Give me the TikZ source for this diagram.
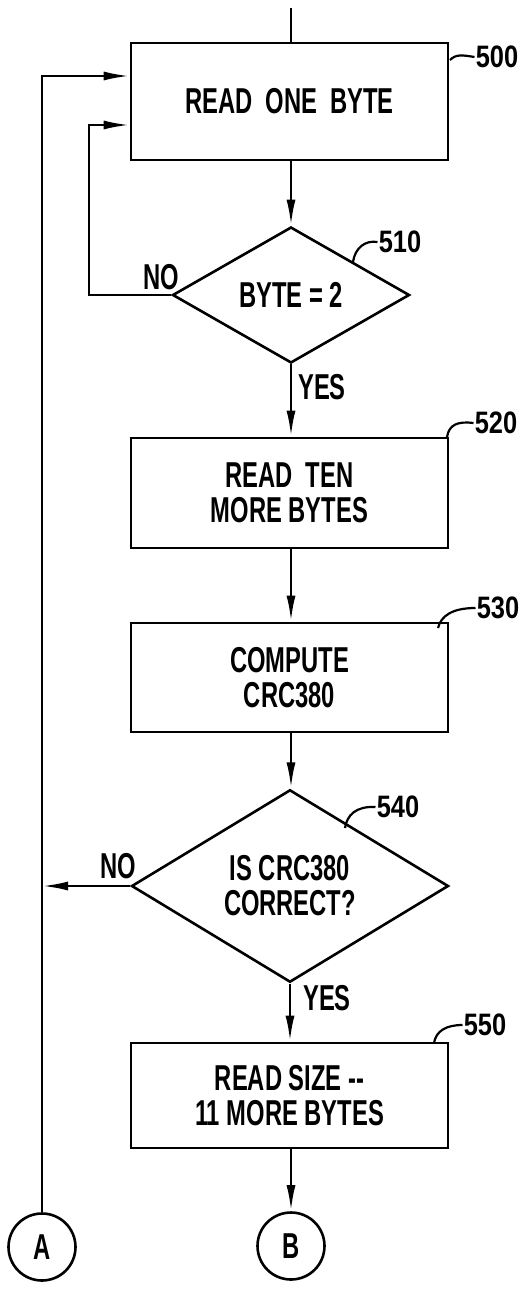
\documentclass[tikz,border=0pt]{standalone}
\usepackage{fontspec}
\setmainfont{Liberation Sans}[FakeStretch=0.66]
\newfontfamily\labfont{Liberation Sans}[FakeStretch=0.82]
\usetikzlibrary{arrows.meta,shapes.geometric}
\begin{document}
\begin{tikzpicture}[x=1pt,y=-1pt,
  line width=2.6pt,
  every node/.style={font=\fontsize{36}{35}\selectfont\bfseries},
  procbox/.style={draw,rectangle,minimum width=317pt,inner sep=0pt,align=center},
  decbox/.style={draw,diamond,inner sep=0pt,align=center},
  conn/.style={draw,circle,minimum size=67pt,inner sep=0pt},
  arr/.style={-{Latex[length=26pt,width=9pt]}},
  lead/.style={line width=2.2pt},
  txt/.style={inner sep=0pt},
  lab/.style={inner sep=0pt,font=\labfont\fontsize{31}{31}\selectfont\bfseries}]
\useasboundingbox (0,0) rectangle (527,1308);

\node[procbox,minimum height=117pt] (b500) at (289.5,101.5) {READ~~ONE~~BYTE};
\node[decbox,minimum width=237pt,minimum height=136pt] (d510) at (291,295) {BYTE = 2};
\node[procbox,minimum height=110pt] (b520) at (289.5,493) {READ~~TEN\\MORE BYTES};
\node[procbox,minimum height=109pt] (b530) at (289.5,677.5) {COMPUTE\\CRC380};
\node[decbox,minimum width=317pt,minimum height=174pt] (d540) at (290,886) {IS CRC380\\CORRECT?};
\node[procbox,minimum height=105pt] (b550) at (289.5,1095.5) {READ SIZE -{}-\\11 MORE BYTES};
\node[conn] (A) at (42,1247) {A};
\node[conn] (B) at (291,1246) {B};

\coordinate (top) at (291,8);
\coordinate (n1) at (89,125);
\coordinate (n2) at (42,76);

\draw (top) -- (top |- b500.north);
\draw[arr] (b500.south -| d510.north) -- (d510.north);
\draw[arr] (d510.west) -| (n1) -- (n1 -| b500.west);
\draw[arr] (A.north) -- (n2) -- (n2 -| b500.west);
\draw[arr] (d510.south) -- (d510.south |- b520.north);
\draw[arr] (b520.south -| d510.south) -- (d510.south |- b530.north);
\draw[arr] (b530.south -| d510.south) -- (d510.south |- d540.north);
\draw[arr] (d540.west) -- (d540.west -| A);
\draw[arr] (d540.south) -- (d540.south |- b550.north);
\draw[arr] (b550.south -| B.north) -- (B.north);

\node[txt] (no1) at (161,277) {NO};
\node[txt] (yes1) at (322,387) {YES};
\node[txt] (no2) at (118,866) {NO};
\node[txt] (yes2) at (327,998) {YES};

\node[lab] (l500) at (497,57) {500};
\node[lab] (l510) at (400,242) {510};
\node[lab] (l520) at (496,423) {520};
\node[lab] (l530) at (498,608) {530};
\node[lab] (l540) at (398,807) {540};
\node[lab] (l550) at (485,1025) {550};

\draw[lead] (450,60) .. controls (456,54) and (462,55) .. (l500.west);
\draw[lead] (353,262) .. controls (355,248) and (365,240) .. (l510.west);
\draw[lead] (447,437) .. controls (449,425) and (457,421) .. (l520.west);
\draw[lead] (438,628) .. controls (441,616) and (452,608) .. (l530.west);
\draw[lead] (345,828) .. controls (347,815) and (356,806) .. (l540.west);
\draw[lead] (434,1043) .. controls (436,1031) and (446,1025) .. (l550.west);
\end{tikzpicture}
\end{document}
